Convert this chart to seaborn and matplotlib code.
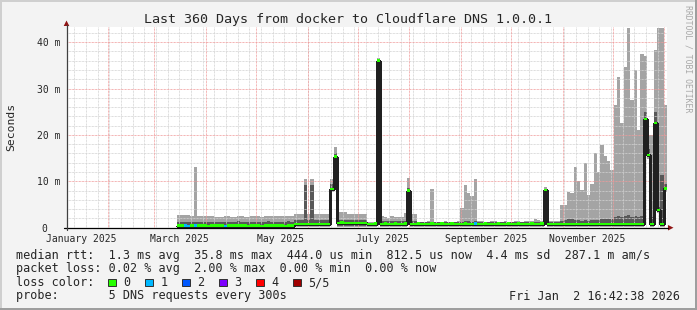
import numpy as np
import pandas as pd
import matplotlib
matplotlib.use("Agg")
import matplotlib.pyplot as plt
from matplotlib.patches import Rectangle, Polygon
from matplotlib.lines import Line2D
import seaborn as sns

# ---------------- data ----------------
title = "Last 360 Days from docker to Cloudflare DNS 1.0.0.1"
end_time = "2026-01-02 16:42:38"
span_days = 360
bin_days = 2
first_bin_day = 66          # data starts this many days after the left edge

# smoke: highest ping (light grey top), 4th ping (dark grey top), 2nd ping, lowest ping  [ms]
smoke_max = ([2.75, 2.7, 2.8, 2.75, 2.6, 13.1, 2.55, 2.5, 2.6, 2.5, 2.55]
             + [2.4, 2.3, 2.35, 2.5, 2.45, 2.3, 2.4, 2.5, 2.45, 2.35, 2.4, 2.5,
                2.55, 2.45, 2.4, 2.5, 2.55, 2.5, 2.45, 2.6, 2.5, 2.55, 2.45, 2.5]
             + [2.9, 2.85, 2.95, 10.6, 2.9, 10.6, 2.95, 2.85, 2.9, 3.0, 2.9]
             + [10.6, 17.3]
             + [3.45, 3.45, 3.4, 3.0, 2.95, 2.95, 2.9, 2.95, 2.9]
             + [1.3, 1.2, 1.25]
             + [36.5]
             + [2.6, 2.2, 2.1, 2.5, 2.4, 2.3, 2.3, 3.1]
             + [10.8]
             + [2.95, 2.9]
             + [1.3, 1.25, 1.3, 1.35, 8.3, 1.3, 1.25, 1.3, 1.35, 1.3, 1.3, 1.25, 1.4]
             + [4.3, 9.2, 7.5, 6.8, 10.6]
             + [1.4, 1.35, 1.3, 1.3, 1.35, 1.4, 1.3, 1.3, 1.35, 1.3,
                1.3, 1.35, 1.4, 1.3, 1.35, 1.4, 1.5, 1.8, 1.7, 1.4]
             + [8.8]
             + [1.4, 1.35, 1.4, 1.5]
             + [4.9, 5.0, 7.8, 7.5, 13.1, 10.0, 8.2, 13.9, 7.0, 9.4, 16.0, 12.0,
                17.8, 15.5, 14.3, 12.5, 26.5, 32.5, 22.5, 34.7, 43.0, 27.6, 34.0,
                21.0, 37.5, 37.0, 20.0, 20.0, 38.4, 43.0, 43.0, 26.4])

smoke_upper = ([1.3, 1.3, 1.25, 1.3, 1.3, 1.3, 1.25, 1.3, 1.3, 1.25, 1.3]
               + [1.3, 1.25, 1.3, 1.3, 1.25, 1.3, 1.3, 1.35, 1.3, 1.25, 1.3, 1.3,
                  1.3, 1.25, 1.3, 1.3, 1.35, 1.3, 1.3, 1.25, 1.3, 1.3, 1.35, 1.3]
               + [1.65, 1.6, 1.65, 9.2, 1.6, 9.2, 1.65, 1.6, 1.65, 1.7, 1.65]
               + [9.5, 16.0]
               + [1.75, 1.75, 1.7, 1.7, 1.65, 1.7, 1.65, 1.7, 1.65]
               + [1.1, 1.1, 1.1]
               + [36.3]
               + [1.45, 1.4, 1.45, 1.5, 1.45, 1.4, 1.45, 1.5]
               + [8.6]
               + [1.5, 1.5]
               + [1.15, 1.15, 1.2, 1.15, 1.15, 1.15, 1.2, 1.15, 1.15, 1.15, 1.2, 1.15, 1.15]
               + [1.3, 1.4, 1.35, 1.3, 1.4]
               + [1.15, 1.15, 1.2, 1.15, 1.15, 1.15, 1.2, 1.15, 1.15, 1.15,
                  1.2, 1.15, 1.15, 1.15, 1.2, 1.15, 1.25, 1.3, 1.25, 1.15]
               + [8.4]
               + [1.15, 1.15, 1.15, 1.2]
               + [1.5, 1.6, 1.8, 1.9, 1.7, 1.6, 1.5, 1.6, 1.5, 1.6, 1.7, 1.6,
                  1.8, 1.9, 1.8, 1.9, 2.4, 2.6, 2.3, 2.5, 2.7, 2.4, 2.6,
                  2.3, 2.5, 25.0, 17.0, 2.2, 25.0, 4.5, 11.4, 9.5])

smoke_lower = ([0.12, 0.12, 0.12, 0.12, 0.12, 0.12, 0.12, 0.12, 0.12, 0.12, 0.12, 0.12,
                0.12, 0.12, 0.12, 0.12, 0.12, 0.12, 0.12, 0.12, 0.12, 0.12, 0.12, 0.12,
                0.12, 0.12, 0.12, 0.12, 0.12, 0.12, 0.12, 0.12, 0.12, 0.12, 0.12]
               + [0.35, 0.35, 0.35, 0.35, 0.35, 0.35, 0.35, 0.35, 0.35, 0.35, 0.35]
               + [8.0, 15.0]
               + [0.35, 0.35, 0.35, 0.35, 0.35, 0.35, 0.35, 0.35, 0.35, 0.35, 0.35, 0.35]
               + [35.6]
               + [0.35, 0.35, 0.35, 0.35, 0.35, 0.35, 0.35, 0.35]
               + [7.8]
               + [0.35, 0.35, 0.35, 0.35, 0.35, 0.35, 0.35, 0.35, 0.35, 0.35,
                  0.35, 0.35, 0.35, 0.35, 0.35, 0.35, 0.35, 0.35, 0.35, 0.35,
                  0.35, 0.35, 0.35, 0.35, 0.35, 0.35, 0.35, 0.35, 0.35, 0.35,
                  0.35, 0.35, 0.35, 0.35, 0.35, 0.35, 0.35, 0.35, 0.35, 0.35]
               + [7.9]
               + [0.33, 0.33, 0.33, 0.33, 0.33, 0.33, 0.33, 0.33, 0.33, 0.33,
                  0.33, 0.33, 0.33, 0.33, 0.33, 0.33, 0.33, 0.33, 0.33, 0.33,
                  0.33, 0.33, 0.33, 0.33, 0.33, 0.33, 0.33, 0.33, 0.33]
               + [23.0, 15.3, 0.33, 22.2, 3.5, 0.33, 8.2])

smoke_min = ([0.05, 0.05, 0.05, 0.05, 0.05, 0.05, 0.05, 0.05, 0.05, 0.05, 0.05, 0.05,
              0.05, 0.05, 0.05, 0.05, 0.05, 0.05, 0.05, 0.05, 0.05, 0.05, 0.05, 0.05,
              0.05, 0.05, 0.05, 0.05, 0.05, 0.05, 0.05, 0.05, 0.05, 0.05, 0.05]
             + [0.2, 0.2, 0.2, 0.2, 0.2, 0.2, 0.2, 0.2, 0.2, 0.2, 0.2]
             + [7.8, 14.6]
             + [0.22, 0.22, 0.22, 0.22, 0.22, 0.22, 0.22, 0.22, 0.22, 0.22, 0.22, 0.22]
             + [35.2]
             + [0.22, 0.22, 0.22, 0.22, 0.22, 0.22, 0.22, 0.22]
             + [7.4]
             + [0.22, 0.22, 0.22, 0.22, 0.22, 0.22, 0.22, 0.22, 0.22, 0.22,
                0.22, 0.22, 0.22, 0.22, 0.22, 0.22, 0.22, 0.22, 0.22, 0.22,
                0.22, 0.22, 0.22, 0.22, 0.22, 0.22, 0.22, 0.22, 0.22, 0.22,
                0.22, 0.22, 0.22, 0.22, 0.22, 0.22, 0.22, 0.22, 0.22, 0.22]
             + [7.5]
             + [0.22, 0.22, 0.22, 0.22, 0.22, 0.22, 0.22, 0.22, 0.22, 0.22,
                0.22, 0.22, 0.22, 0.22, 0.22, 0.22, 0.22, 0.22, 0.22, 0.22,
                0.22, 0.22, 0.22, 0.22, 0.22, 0.22, 0.22, 0.22, 0.22]
             + [22.2, 14.8, 0.22, 21.6, 3.2, 0.22, 7.8])

median_ms = ([0.43, 0.45, 0.42, 0.4, 0.43, 0.44, 0.42, 0.43, 0.45, 0.41, 0.43, 0.42,
              0.44, 0.43, 0.4, 0.42, 0.43, 0.45, 0.44, 0.42, 0.43, 0.41, 0.43, 0.44,
              0.42, 0.4, 0.43, 0.45, 0.43, 0.42, 0.44, 0.43, 0.41, 0.43, 0.44]
             + [0.8, 0.82, 0.78, 0.8, 0.83, 0.8, 0.79, 0.81, 0.8, 0.82, 0.8]
             + [8.3, 15.3]
             + [1.05, 1.08, 1.05, 1.02, 1.05, 1.06, 1.03, 1.05, 1.04]
             + [0.85, 0.84, 0.86]
             + [36.0]
             + [0.85, 0.86, 0.84, 0.85, 0.87, 0.85, 0.84, 0.86]
             + [8.0]
             + [0.85, 0.84, 0.86, 0.85, 0.83, 0.85, 0.86, 0.84, 0.85, 0.87,
                0.85, 0.84, 0.86, 0.85, 0.83, 0.85, 0.86, 0.84, 0.85, 0.87,
                0.85, 0.84, 0.86, 0.85, 0.83, 0.85, 0.86, 0.84, 0.85, 0.87,
                0.85, 0.84, 0.86, 0.85, 0.83, 0.85, 0.86, 0.84, 0.85, 0.86]
             + [8.1]
             + [0.83, 0.82, 0.84, 0.83, 0.85, 0.83, 0.82, 0.84, 0.83, 0.85,
                0.83, 0.82, 0.84, 0.83, 0.85, 0.83, 0.82, 0.84, 0.83, 0.85,
                0.83, 0.82, 0.84, 0.83, 0.85, 0.83, 0.82, 0.84, 0.83]
             + [23.4, 15.7, 0.83, 22.6, 3.8, 0.83, 8.5])

loss_bins = [2, 3, 5, 14, 89]     # bins whose median is drawn in a loss colour
loss_level = [1, 1, 1, 1, 1]

loss_names = ["0", "1", "2", "3", "4", "5/5"]
loss_colors = ["#26ff00", "#00b8ff", "#0059ff", "#7e00ff", "#ff0000", "#a00000"]

month_label_starts = ["2025-01-01", "2025-03-01", "2025-05-01", "2025-07-01", "2025-09-01", "2025-11-01"]
month_labels = ["January 2025", "March 2025", "May 2025", "July 2025", "September 2025", "November 2025"]
ytick_vals = [0, 10, 20, 30, 40]
ytick_labels = ["0", "10 m", "20 m", "30 m", "40 m"]

legend_rtt = "median rtt:  1.3 ms avg  35.8 ms max  444.0 us min  812.5 us now  4.4 ms sd  287.1 m am/s"
legend_loss = "packet loss: 0.02 % avg  2.00 % max  0.00 % min  0.00 % now"
legend_color = "loss color:"
legend_probe = "probe:       5 DNS requests every 300s"
stamp = "Fri Jan  2 16:42:38 2026"

# ---------------- drawing ----------------
sns.set_style("white")
plt.rcParams["font.family"] = ["DejaVu Sans Mono"]

W, H = 697, 310
fx = lambda x: x / W
fy = lambda y: 1 - y / H

fig = plt.figure(figsize=(W / 100, H / 100), dpi=100, facecolor="#f3f3f3")
ax = fig.add_axes([fx(67), fy(227.7), 600 / W, (227.7 - 27.3) / H])
ax.set_facecolor("white")
ymax = 43.2
ax.set_xlim(0, span_days)
ax.set_ylim(0, ymax)
for s in ax.spines.values():
    s.set_visible(False)

end = pd.Timestamp(end_time)
start = end - pd.Timedelta(days=span_days)
to_day = lambda t: (pd.Timestamp(t) - start) / pd.Timedelta(days=1)

# grid
dot = (0, (0.72, 0.72))
weeks = [to_day(t) for t in pd.date_range("2025-01-12", end, freq="7D")]
months = [to_day(t) for t in pd.date_range("2025-02-01", end, freq="MS")]
ax.vlines(weeks, 0, ymax, colors="#d2d2d2", linestyles=dot, lw=0.72, zorder=3)
ax.hlines([v for v in range(2, 43, 2) if v % 10], 0, span_days, colors="#d2d2d2", linestyles=dot, lw=0.72, zorder=3)
ax.vlines(months, 0, ymax, colors="#f09a9a", linestyles=dot, lw=0.72, zorder=3.1)
ax.hlines([10, 20, 30, 40], 0, span_days, colors="#f09a9a", linestyles=dot, lw=0.72, zorder=3.1)

K = len(median_ms)
xe = first_bin_day + bin_days * np.arange(K + 1)
ext = lambda a: np.append(np.asarray(a, float), a[-1])
med = np.asarray(median_ms, float)

ax.fill_between(xe, ext(smoke_min), ext(smoke_max), step="post", color="#a4a4a4", lw=0, antialiased=False, zorder=2)
ax.fill_between(xe, ext(smoke_lower), ext(smoke_upper), step="post", color="#585858", lw=0, antialiased=False, zorder=2.1)

df = pd.DataFrame({"day": xe, "median": ext(med)})
sns.lineplot(data=df, x="day", y="median", drawstyle="steps-post", color="#202020", lw=1.0,
             ax=ax, zorder=4, legend=False, antialiased=False)
half = 0.27
ax.fill_between(xe, ext(med - half), ext(med + half), step="post", color=loss_colors[0], lw=0,
                antialiased=False, zorder=5)
ax.bar(xe[loss_bins], 2 * half, width=bin_days, bottom=med[loss_bins] - half, align="edge",
       color=[loss_colors[l] for l in loss_level], lw=0, antialiased=False, zorder=6)

# ticks
ax.set_xticks([to_day(t) + 15 for t in month_label_starts])
ax.set_xticklabels(month_labels, fontsize=7)
ax.set_yticks(ytick_vals)
ax.set_yticklabels(ytick_labels, fontsize=7)
ax.tick_params(axis="x", length=0, pad=4.2)
ax.tick_params(axis="y", length=0, pad=5)
ax.set_xlabel("")
ax.set_ylabel("")
# the "0" label sits under the digits column of the "NN m" labels
zero_lab = ax.get_yticklabels()[0]
zero_lab.set_transform(zero_lab.get_transform() + matplotlib.transforms.Affine2D().translate(-12.5, 0))

# axes lines and arrows
fig.add_artist(Line2D([fx(64), fx(668)], [fy(227.7), fy(227.7)], color="black", lw=0.9))
fig.add_artist(Line2D([fx(66.5), fx(66.5)], [fy(230), fy(25)], color="#404040", lw=0.9))
fig.add_artist(Polygon([(fx(668), fy(225)), (fx(668), fy(230.5)), (fx(673.5), fy(227.7))], closed=True,
                       color="#901414", lw=0))
fig.add_artist(Polygon([(fx(63.7), fy(26)), (fx(69.3), fy(26)), (fx(66.5), fy(20.5))], closed=True,
                       color="#901414", lw=0))

# texts
fig.text(fx(348), fy(19), title, ha="center", va="center", fontsize=9.6)
fig.text(fx(11), fy(127), "Seconds", rotation=90, ha="center", va="center", fontsize=8.2)
fig.text(fx(688), fy(5), "RRDTOOL / TOBI OETIKER", rotation=270, ha="center", va="top", fontsize=5.9,
         color="#a8a8a8")

fs = 8.5
fig.text(fx(16), fy(258.5), legend_rtt, ha="left", va="baseline", fontsize=fs)
fig.text(fx(16), fy(272.3), legend_loss, ha="left", va="baseline", fontsize=fs)
fig.text(fx(16), fy(286), legend_color, ha="left", va="baseline", fontsize=fs)
fig.text(fx(16), fy(299.5), legend_probe, ha="left", va="baseline", fontsize=fs)
fig.text(fx(680), fy(299.5), stamp, ha="right", va="baseline", fontsize=fs)
for i, (name, col) in enumerate(zip(loss_names, loss_colors)):
    bx = 108.3 + 37 * i
    fig.add_artist(Rectangle((fx(bx), fy(286.3)), 7.3 / W, 7.3 / H, facecolor=col, edgecolor="#303030", lw=0.7))
    fig.text(fx(bx + 15), fy(286), name, ha="left", va="baseline", fontsize=fs)

# frame
fig.add_artist(Rectangle((0, 0), 1, 2 / H, color="#9e9e9e", lw=0))
fig.add_artist(Rectangle((1 - 2 / W, 0), 2 / W, 1, color="#9e9e9e", lw=0))
fig.add_artist(Rectangle((0, 1 - 2 / H), 1 - 2 / W, 2 / H, color="#cfcfcf", lw=0))
fig.add_artist(Rectangle((0, 2 / H), 2 / W, 1 - 2 / H, color="#cfcfcf", lw=0))

fig.savefig("out.png", dpi=100, facecolor=fig.get_facecolor())
